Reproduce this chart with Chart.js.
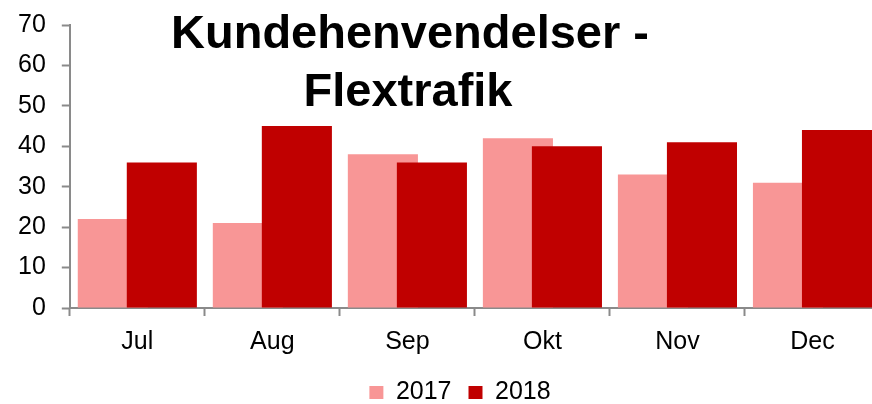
<!DOCTYPE html>
<html>
<head>
<meta charset="utf-8">
<script src="https://cdn.jsdelivr.net/npm/chart.js"></script>
<style>
  html, body { margin: 0; padding: 0; overflow: hidden; background: #fff; }
  #wrap { width: 882px; height: 404px; position: relative; }
</style>
</head>
<body>
<div id="wrap"><canvas id="chart"></canvas></div>
<script>
// data
const months = ['Jul', 'Aug', 'Sep', 'Okt', 'Nov', 'Dec'];
const values2017 = [22, 21, 38, 42, 33, 31];
const values2018 = [36, 45, 36, 40, 41, 44];
const titleLines = ['Kundehenvendelser -', 'Flextrafik'];

const axisGrey = '#8a8a8a';
const fontFamily = '"Liberation Sans", Arial, sans-serif';

// 2018 bars overlap 2017 bars, so draw datasets in index order (last one on top)
const drawInIndexOrder = {
    id: 'drawInIndexOrder',
    beforeDatasetsDraw(chart) {
        chart.data.datasets.forEach((ds, i) => {
            chart.getDatasetMeta(i).controller.draw();
        });
        return false;
    }
};

// legend in the original is centred a bit right of the canvas middle
const nudgeLegend = {
    id: 'nudgeLegend',
    afterLayout(chart) {
        chart.legend.left += 19;
        chart.legend.right += 19;
        chart.legend.top -= 5;
        chart.legend.bottom -= 5;
    }
};

// title sits inside the plot area like in the original
const overlayTitle = {
    id: 'overlayTitle',
    afterDraw(chart) {
        const ctx = chart.ctx;
        ctx.save();
        ctx.font = 'bold 47px ' + fontFamily;
        ctx.fillStyle = '#000';
        ctx.textAlign = 'center';
        ctx.textBaseline = 'alphabetic';
        ctx.fillText(titleLines[0], 410, 48);
        ctx.fillText(titleLines[1], 408, 106);
        ctx.restore();
    }
};

const ctx = document.getElementById('chart').getContext('2d');
const myChart = new Chart(ctx, {
    type: 'bar',
    data: {
        labels: months,
        datasets: [{
            label: '2017',
            data: values2017,
            backgroundColor: '#F89696',
            categoryPercentage: 0.726,
            barPercentage: 1.43
        }, {
            label: '2018',
            data: values2018,
            backgroundColor: '#C00000',
            categoryPercentage: 0.726,
            barPercentage: 1.43
        }]
    },
    options: {
        responsive: true,
        maintainAspectRatio: false,
        animation: false,
        layout: {
            padding: { left: 2, right: 2, top: 25, bottom: -16 }
        },
        plugins: {
            tooltip: { enabled: false },
            title: { display: false },
            legend: {
                position: 'bottom',
                labels: {
                    boxWidth: 14,
                    boxHeight: 13,
                    padding: 17,
                    color: '#000',
                    font: { family: fontFamily, size: 25 }
                }
            }
        },
        scales: {
            x: {
                grid: {
                    offset: true,
                    drawOnChartArea: false,
                    drawTicks: true,
                    tickLength: 8,
                    tickWidth: 2,
                    tickColor: axisGrey
                },
                border: { color: axisGrey, width: 2 },
                ticks: {
                    color: '#000',
                    padding: 11,
                    font: { family: fontFamily, size: 25 }
                }
            },
            y: {
                min: 0,
                max: 70,
                afterFit(scale) { scale.paddingTop = 0; },
                grid: {
                    drawOnChartArea: false,
                    tickLength: 8,
                    tickWidth: 2,
                    tickColor: axisGrey
                },
                border: { color: axisGrey, width: 2 },
                ticks: {
                    stepSize: 10,
                    color: '#000',
                    padding: 16,
                    font: { family: fontFamily, size: 25 }
                }
            }
        }
    },
    plugins: [drawInIndexOrder, nudgeLegend, overlayTitle]
});
</script>
</body>
</html>
